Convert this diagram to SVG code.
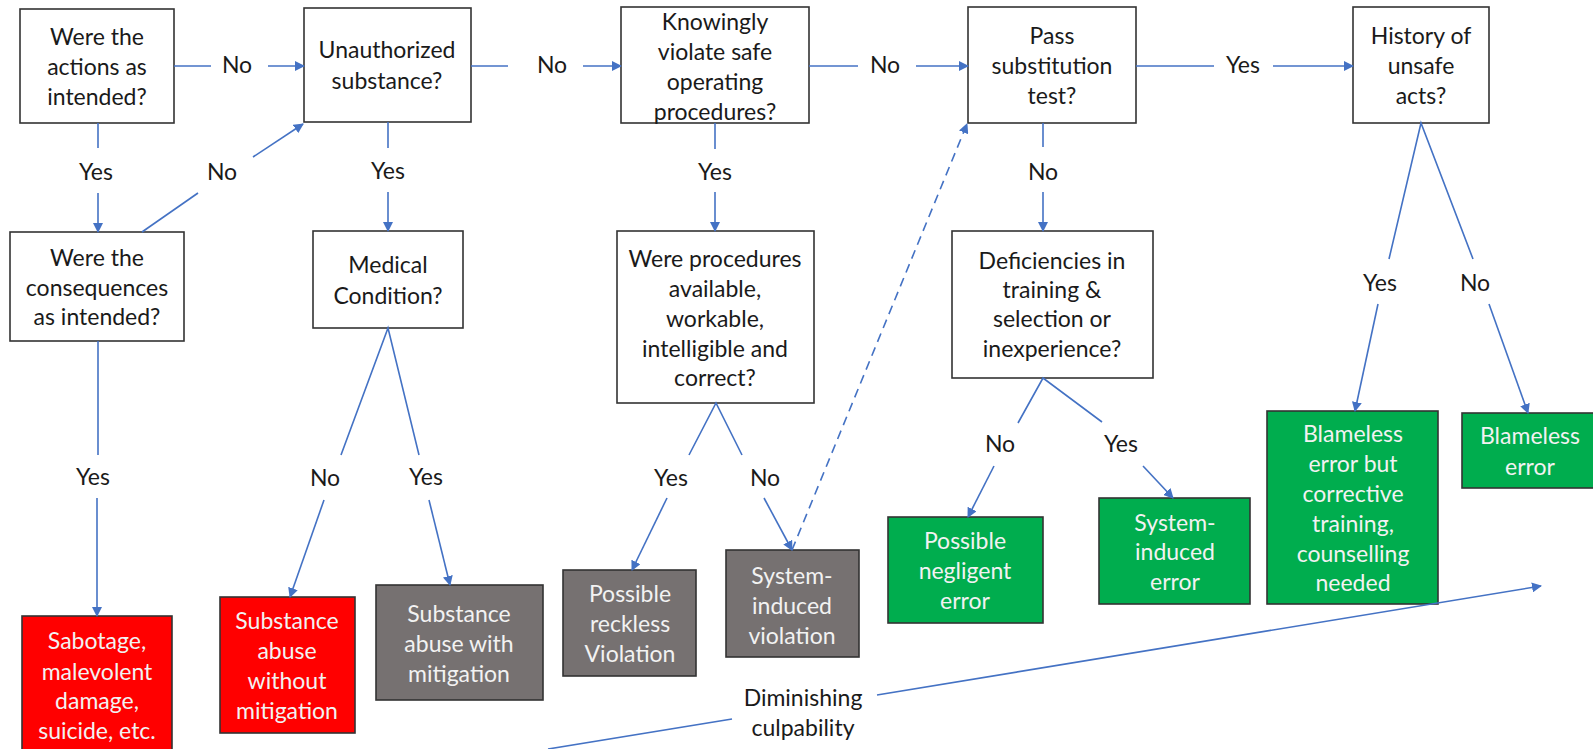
<svg xmlns="http://www.w3.org/2000/svg" width="1593" height="749" viewBox="0 0 1593 749">
<defs>
<marker id="ah" viewBox="0 0 10 10" refX="9" refY="5" markerWidth="10" markerHeight="10" markerUnits="userSpaceOnUse" orient="auto">
<path d="M0,0 L10,5 L0,10 z" fill="#4472C4"/>
</marker>
</defs>
<style>
text{font-family:Lato,"Liberation Sans",sans-serif;font-size:23px;text-anchor:middle;dominant-baseline:central;fill:#1a1a1a}
.q{fill:#fff;stroke:#333;stroke-width:1.6}
.red{fill:#FF0000;stroke:#333;stroke-width:1.6}
.grey{fill:#767171;stroke:#333;stroke-width:1.6}
.green{fill:#00AD4E;stroke:#333;stroke-width:1.6}
.w{fill:#f2f2f2}
.c line,.c path{stroke:#4472C4;stroke-width:1.6;fill:none}
.a{marker-end:url(#ah)}
.d{stroke-dasharray:9 6}
</style>
<rect width="1593" height="749" fill="#fff"/>
<g id="n1"><rect class="q" x="20" y="9" width="154" height="114"/><text x="97" y="36">Were the</text><text x="97" y="66">actions as</text><text x="97" y="96">intended?</text></g>
<g id="n2"><rect class="q" x="304" y="8" width="167" height="114"/><text x="387" y="49">Unauthorized</text><text x="387" y="80">substance?</text></g>
<g id="n3"><rect class="q" x="621" y="7" width="188" height="116"/><text x="715" y="21">Knowingly</text><text x="715" y="51">violate safe</text><text x="715" y="81">operating</text><text x="715" y="111">procedures?</text></g>
<g id="n4"><rect class="q" x="968" y="7" width="168" height="116"/><text x="1052" y="35">Pass</text><text x="1052" y="65">substitution</text><text x="1052" y="95">test?</text></g>
<g id="n5"><rect class="q" x="1353" y="7" width="136" height="116"/><text x="1421" y="35">History of</text><text x="1421" y="65">unsafe</text><text x="1421" y="95">acts?</text></g>
<g id="n6"><rect class="q" x="10" y="232" width="174" height="109"/><text x="97" y="257">Were the</text><text x="97" y="287">consequences</text><text x="97" y="316">as intended?</text></g>
<g id="n7"><rect class="q" x="313" y="231" width="150" height="97"/><text x="388" y="264">Medical</text><text x="388" y="295">Condition?</text></g>
<g id="n8"><rect class="q" x="617" y="231" width="197" height="172"/><text x="715" y="258">Were procedures</text><text x="715" y="288">available,</text><text x="715" y="318">workable,</text><text x="715" y="348">intelligible and</text><text x="715" y="377">correct?</text></g>
<g id="n9"><rect class="q" x="952" y="231" width="201" height="147"/><text x="1052" y="260">Deficiencies in</text><text x="1052" y="289">training &amp;</text><text x="1052" y="318">selection or</text><text x="1052" y="348">inexperience?</text></g>
<g id="r1"><rect class="red" x="22" y="616" width="150" height="140"/><text class="w" x="97" y="640">Sabotage,</text><text class="w" x="97" y="671">malevolent</text><text class="w" x="97" y="700">damage,</text><text class="w" x="97" y="730">suicide, etc.</text></g>
<g id="r2"><rect class="red" x="220" y="597" width="135" height="136"/><text class="w" x="287" y="620">Substance</text><text class="w" x="287" y="650">abuse</text><text class="w" x="287" y="680">without</text><text class="w" x="287" y="710">mitigation</text></g>
<g id="g1"><rect class="grey" x="376" y="585" width="167" height="115"/><text class="w" x="459" y="613">Substance</text><text class="w" x="459" y="643">abuse with</text><text class="w" x="459" y="673">mitigation</text></g>
<g id="g2"><rect class="grey" x="563" y="570" width="133" height="106"/><text class="w" x="630" y="593">Possible</text><text class="w" x="630" y="623">reckless</text><text class="w" x="630" y="653">Violation</text></g>
<g id="g3"><rect class="grey" x="726" y="550" width="133" height="107"/><text class="w" x="792" y="575">System-</text><text class="w" x="792" y="605">induced</text><text class="w" x="792" y="635">violation</text></g>
<g id="e1"><rect class="green" x="888" y="517" width="155" height="106"/><text class="w" x="965" y="540">Possible</text><text class="w" x="965" y="570">negligent</text><text class="w" x="965" y="600">error</text></g>
<g id="e2"><rect class="green" x="1099" y="498" width="151" height="106"/><text class="w" x="1175" y="522">System-</text><text class="w" x="1175" y="551">induced</text><text class="w" x="1175" y="581">error</text></g>
<g id="e3"><rect class="green" x="1267" y="411" width="171" height="193"/><text class="w" x="1353" y="433">Blameless</text><text class="w" x="1353" y="463">error but</text><text class="w" x="1353" y="493">corrective</text><text class="w" x="1353" y="523">training,</text><text class="w" x="1353" y="553">counselling</text><text class="w" x="1353" y="582">needed</text></g>
<g id="e4"><rect class="green" x="1462" y="413" width="140" height="75"/><text class="w" x="1530" y="435">Blameless</text><text class="w" x="1530" y="466">error</text></g>
<g id="connectors" class="c">
<line x1="174" y1="66" x2="211" y2="66"/><line class="a" x1="268" y1="66" x2="304" y2="66"/>
<line x1="98" y1="123" x2="98" y2="148"/><line class="a" x1="98" y1="193" x2="98" y2="232"/>
<line x1="142" y1="232" x2="198" y2="193"/><line class="a" x1="253" y1="157" x2="303" y2="124"/>
<line x1="388" y1="122" x2="388" y2="148"/><line class="a" x1="388" y1="192" x2="388" y2="231"/>
<line x1="471" y1="66" x2="508" y2="66"/><line class="a" x1="583" y1="66" x2="621" y2="66"/>
<line x1="715" y1="123" x2="715" y2="149"/><line class="a" x1="715" y1="192" x2="715" y2="231"/>
<line x1="809" y1="66" x2="858" y2="66"/><line class="a" x1="916" y1="66" x2="968" y2="66"/>
<line x1="1043" y1="123" x2="1043" y2="147"/><line class="a" x1="1043" y1="192" x2="1043" y2="231"/>
<line x1="1136" y1="66" x2="1214" y2="66"/><line class="a" x1="1273" y1="66" x2="1353" y2="66"/>
<path d="M1389,259 L1421,123 L1473,259"/>
<line class="a" x1="1378" y1="304" x2="1355" y2="411"/>
<line class="a" x1="1489" y1="304" x2="1528" y2="413"/>
<line x1="98" y1="341" x2="98" y2="455"/><line class="a" x1="97" y1="498" x2="97" y2="616"/>
<path d="M341,455 L388,328 L419,455"/>
<line class="a" x1="324" y1="500" x2="290" y2="597"/>
<line class="a" x1="429" y1="500" x2="450" y2="585"/>
<path d="M689,455 L716,403 L742,455"/>
<line class="a" x1="667" y1="498" x2="632" y2="570"/>
<line class="a" x1="764" y1="498" x2="792" y2="550"/>
<line class="a d" x1="792" y1="550" x2="967" y2="124"/>
<path d="M1018,423 L1043,378 L1102,422"/>
<line class="a" x1="994" y1="466" x2="968" y2="517"/>
<line class="a" x1="1143" y1="466" x2="1173" y2="498"/>
<line x1="548" y1="749" x2="732" y2="719"/>
<line class="a" x1="877" y1="695" x2="1541" y2="586"/>
</g>
<g id="labels">
<text x="237" y="64">No</text><text x="96" y="171">Yes</text><text x="222" y="171">No</text><text x="388" y="170">Yes</text>
<text x="552" y="64">No</text><text x="715" y="171">Yes</text><text x="885" y="64">No</text><text x="1043" y="171">No</text>
<text x="1243" y="64">Yes</text><text x="1380" y="282">Yes</text><text x="1475" y="282">No</text>
<text x="93" y="476">Yes</text><text x="325" y="477">No</text><text x="426" y="476">Yes</text>
<text x="671" y="477">Yes</text><text x="765" y="477">No</text><text x="1000" y="443">No</text><text x="1121" y="443">Yes</text>
<text x="803" y="697">Diminishing</text><text x="803" y="727">culpability</text>
</g>
</svg>
